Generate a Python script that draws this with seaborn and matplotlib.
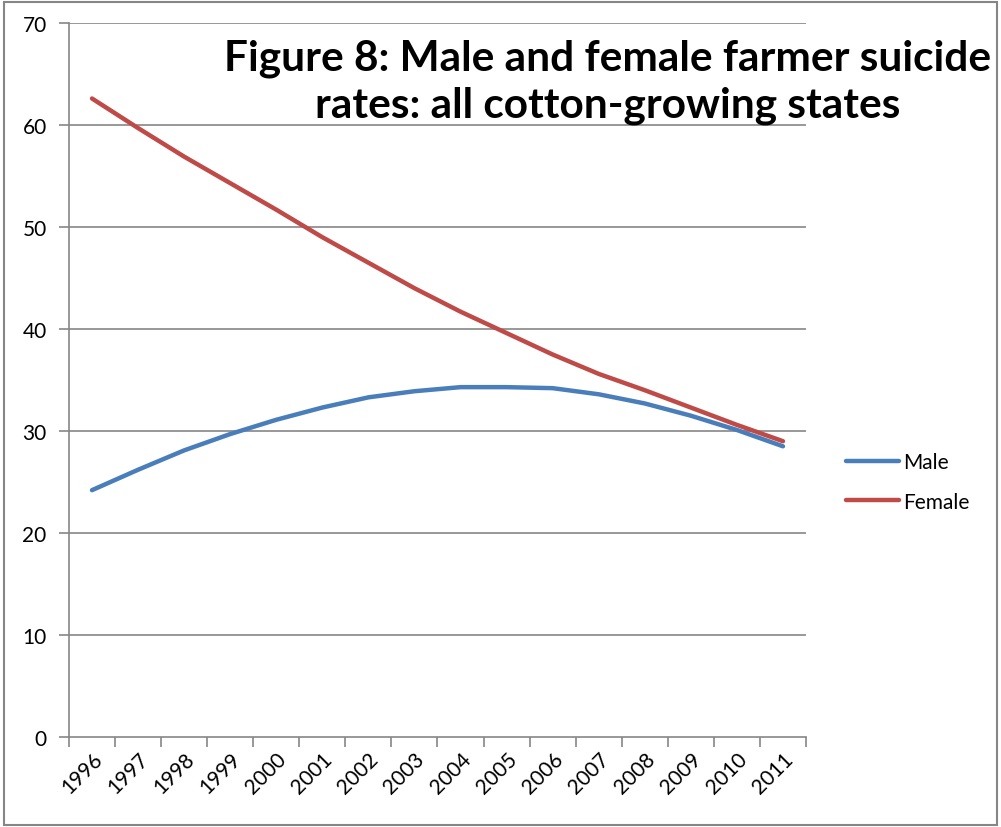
import matplotlib
matplotlib.use("Agg")
import matplotlib.pyplot as plt
from matplotlib.patches import Rectangle
import seaborn as sns
import pandas as pd
import numpy as np

years = ["1996", "1997", "1998", "1999", "2000", "2001", "2002", "2003",
         "2004", "2005", "2006", "2007", "2008", "2009", "2010", "2011"]
male = [24.2, 26.2, 28.1, 29.7, 31.1, 32.3, 33.3, 33.9,
        34.3, 34.3, 34.2, 33.6, 32.7, 31.5, 30.1, 28.5]
female = [62.6, 59.7, 56.9, 54.3, 51.7, 49.0, 46.5, 44.0,
          41.7, 39.6, 37.5, 35.6, 34.0, 32.3, 30.6, 29.0]
series_names = ["Male", "Female"]
colors = ["#4A7EBB", "#BE4B48"]
title = "Figure 8: Male and female farmer suicide\nrates: all cotton-growing states"

sns.set_style("white")
plt.rcParams["font.family"] = ["Lato", "DejaVu Sans"]
plt.rcParams["text.color"] = "black"
plt.rcParams["xtick.labelcolor"] = "black"
plt.rcParams["ytick.labelcolor"] = "black"

df = pd.DataFrame({
    "idx": list(range(len(years))) * 2,
    "value": male + female,
    "series": [series_names[0]] * len(years) + [series_names[1]] * len(years),
})

fig = plt.figure(figsize=(10.01, 8.28), dpi=100)
ax = fig.add_axes([0.0689, 0.1087, 0.8052 - 0.0689, 0.971 - 0.1087])

grid_c = "#868686"
for v in range(10, 80, 10):
    ax.axhline(v, color=grid_c, lw=1.2, zorder=0)

sns.lineplot(data=df, x="idx", y="value", hue="series", palette=colors,
             hue_order=series_names, linewidth=3.2, ax=ax, legend=False,
             solid_capstyle="round")

ax.set_xlim(-0.5, len(years) - 0.5)
ax.set_ylim(0, 70)
ax.set_yticks(range(0, 80, 10))
ax.set_xticks(np.arange(-0.5, len(years), 1.0))
ax.set_xticklabels([])
ax.set_xticks(range(len(years)), minor=True)
ax.set_xticklabels(years, minor=True, rotation=45, ha="right",
                   rotation_mode="anchor", fontsize=15, color="black")
ax.tick_params(axis="x", which="major", length=7, width=1.2, color=grid_c,
               direction="out", bottom=True)
ax.tick_params(axis="x", which="minor", length=0, pad=8)
ax.tick_params(axis="y", length=7, width=1.2, color=grid_c, direction="out",
               labelsize=15, pad=9, left=True, labelcolor="black")
ax.set_xlabel("")
ax.set_ylabel("")
for side in ["top", "right"]:
    ax.spines[side].set_visible(False)
for side in ["left", "bottom"]:
    ax.spines[side].set_color(grid_c)
    ax.spines[side].set_linewidth(1.2)

fig.text(0.607, 0.952, title, ha="center", va="top", fontsize=30.5,
         fontweight="bold", linespacing=1.26, color="black")

handles = [plt.Line2D([], [], color=c, lw=3.2, solid_capstyle="round") for c in colors]
leg = fig.legend(handles, series_names, loc="center left",
                 bbox_to_anchor=(0.826, 0.417), frameon=False, fontsize=15,
                 handlelength=2.55, handletextpad=0.2, labelspacing=0.95)
for t in leg.get_texts():
    t.set_color("black")

fig.patches.append(Rectangle((0.004, 0.003), 0.992, 0.993, transform=fig.transFigure,
                             fill=False, edgecolor=grid_c, lw=1.5))

fig.savefig("out.png", dpi=100)
